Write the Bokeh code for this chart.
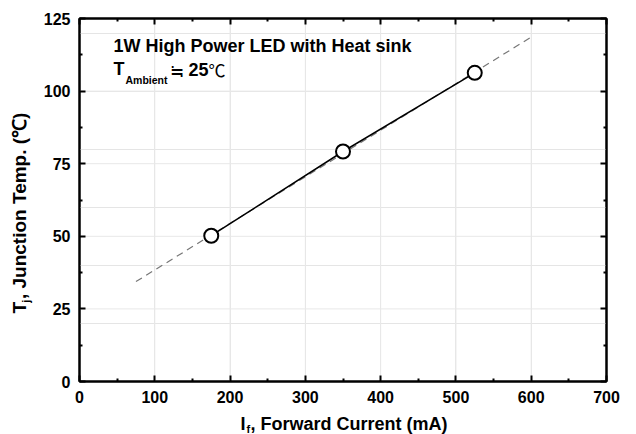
import math
from bokeh.plotting import figure
from bokeh.layouts import row, column
from bokeh.models import Range1d, LinearAxis, FixedTicker, Span
from bokeh.core.properties import value
from bokeh.embed import file_html
from bokeh.resources import INLINE

# data
current_ma = [175, 350, 525]
junction_temp = [50.2, 79.2, 106.3]
fit_current = [75, 600]
fit_temp = [34.4, 118.6]
x_ticks = [0, 100, 200, 300, 400, 500, 600, 700]
y_ticks = [0, 25, 50, 75, 100, 125]

FONT = "Liberation Sans"
CJK = "Noto Sans CJK SC"
YT_W = 40            # width of the strip holding the y title
MAIN_W, MAIN_H = 596, 405
XT_H = 29            # height of the strip holding the x title
ML, MR, MT, MB = 39, 30, 18, 24
BASE_FIX = 0.34      # observed offset of the rendered baseline (in font sizes)

p = figure(width=MAIN_W, height=MAIN_H, output_backend="svg", toolbar_location=None,
           title=None,
           x_range=Range1d(0, 700), y_range=Range1d(0, 125),
           min_border_left=ML, min_border_right=MR, min_border_top=MT, min_border_bottom=MB,
           x_axis_location=None, y_axis_location=None)
p.background_fill_color = "white"
p.border_fill_color = "white"
p.outline_line_color = "black"
p.outline_line_width = 2

fw = MAIN_W - ML - MR
fh = MAIN_H - MT - MB
def px2x(px):
    return (px - YT_W - ML) / fw * 700
def px2y(py):
    return (MAIN_H - MB - py) / fh * 125

def mk_axis(loc, ticks, labels=True, standoff=9):
    step = ticks[1] - ticks[0]
    ax = LinearAxis(ticker=FixedTicker(ticks=ticks, minor_ticks=[t + step / 2 for t in ticks[:-1]]))
    ax.axis_line_width = 2
    ax.axis_line_color = "black"
    ax.major_tick_in = 6
    ax.major_tick_out = 0
    ax.minor_tick_in = 3
    ax.minor_tick_out = 0
    ax.major_tick_line_width = 2
    ax.minor_tick_line_width = 2
    ax.major_label_text_font = FONT
    ax.major_label_text_font_style = "bold"
    ax.major_label_text_font_size = "16px"
    ax.major_label_text_color = "black"
    if not labels:
        ax.major_label_overrides = {t: "" for t in ticks}
        ax.major_label_standoff = 0
    else:
        ax.major_label_standoff = standoff
    p.add_layout(ax, loc)
    return ax

mk_axis("below", x_ticks, standoff=9)
mk_axis("left", y_ticks, standoff=9)
mk_axis("above", x_ticks, labels=False)
mk_axis("right", y_ticks, labels=False)

for t in x_ticks[1:-1]:
    p.add_layout(Span(location=t, dimension="height", line_color="#e8e8e8", line_width=1, level="underlay"))
for t in y_ticks[1:-1]:
    p.add_layout(Span(location=t, dimension="width", line_color="#e8e8e8", line_width=1, level="underlay"))

p.line(fit_current, fit_temp, line_color="#777777", line_width=1.2, line_dash="7 5")
p.line(current_ma, junction_temp, line_color="black", line_width=1.5)
p.scatter(current_ma, junction_temp, size=14, marker="circle", fill_color="white",
          line_color="black", line_width=2)

def txt(fig, x, y, text, size, bold=True, angle=0.0, font=FONT):
    fig.text(x=[x], y=[y], text=[text], text_font=value(font),
             text_font_size=value(f"{size}px"),
             text_font_style="bold" if bold else "normal",
             text_color="black", text_align="left",
             text_baseline="alphabetic", angle=angle)

def htxt(px, py, text, size, bold=True, font=FONT):
    # px, py: wanted left / baseline position in page pixels
    py = py - BASE_FIX * size
    txt(p, px2x(px), px2y(py), text, size, bold=bold, font=font)

# annotation text inside the plot
htxt(113, 52, "1W High Power LED with Heat sink", 18)
htxt(113, 75, "T", 18)
htxt(125, 83, "Ambient", 10.5)
htxt(169, 75, "≒", 17, bold=False, font=CJK)
htxt(188, 75, "25", 18)
htxt(208, 75, "℃", 17, bold=False, font=CJK)

def strip(w, h):
    f = figure(width=w, height=h, output_backend="svg", toolbar_location=None,
               title=None,
               x_range=Range1d(0, w), y_range=Range1d(0, h),
               min_border=0, min_border_left=0, min_border_right=0,
               min_border_top=0, min_border_bottom=0,
               x_axis_location=None, y_axis_location=None)
    f.outline_line_color = None
    f.grid.visible = False
    f.background_fill_color = "white"
    f.border_fill_color = "white"
    return f

# y axis title strip (pixel coordinates, y measured from the bottom)
yt = strip(YT_W, MAIN_H)
def vtxt(px, py, text, size):
    px = px - BASE_FIX * size
    py = py + 14
    txt(yt, px, MAIN_H - py, text, size, angle=math.pi / 2)

vtxt(25, 315, "T", 19)
vtxt(29, 303, "j", 11)
vtxt(25, 299, ", Junction Temp. (℃)", 19)

# x axis title strip
XT_W = YT_W + MAIN_W
xt = strip(XT_W, XT_H)
def xtxt(px, py, text, size):
    py = py - BASE_FIX * size
    txt(xt, px, XT_H - (py - MAIN_H), text, size)

xtxt(240, 430, "I", 18)
xtxt(246, 432, "f", 11)
xtxt(250, 430, ", Forward Current (mA)", 18)

layout = column(row(yt, p, spacing=0), xt, spacing=0)
open("out.html", "w").write(file_html(layout, INLINE))
